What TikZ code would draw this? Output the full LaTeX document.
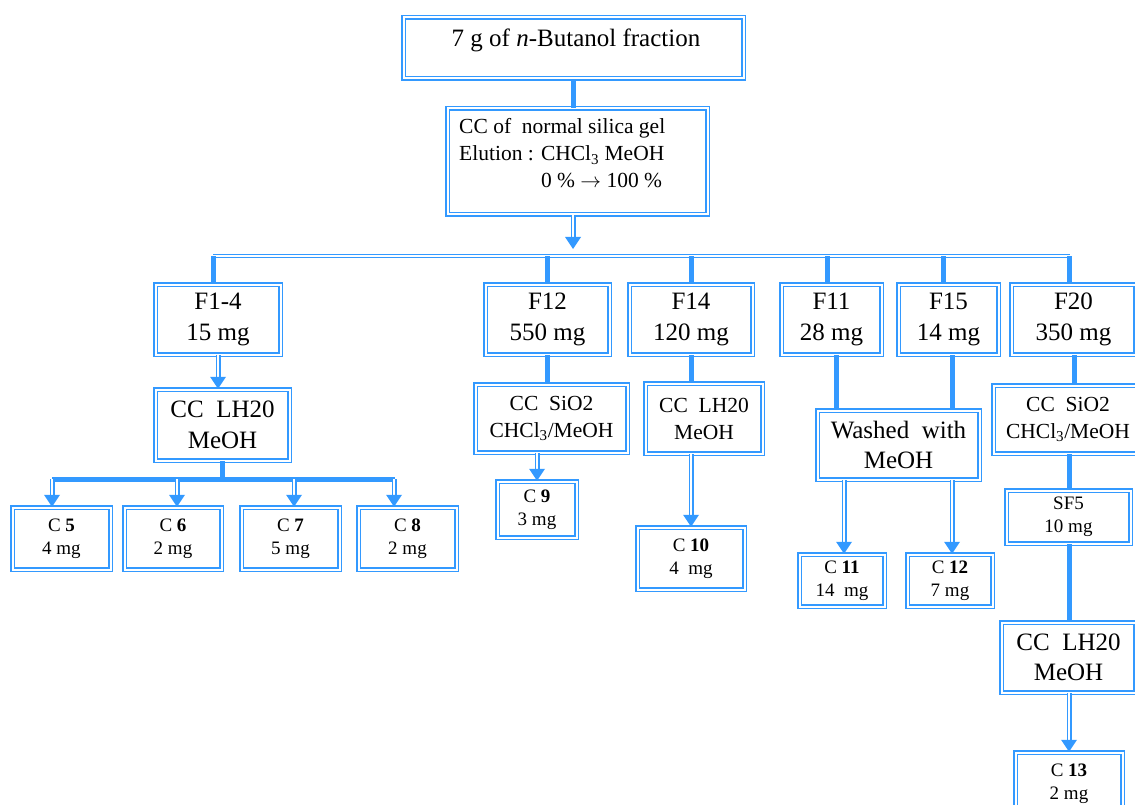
\documentclass[tikz,border=0pt]{standalone}
\usepackage{fontspec}
\setmainfont{Liberation Serif}
\definecolor{bl}{RGB}{51,153,255}
\tikzset{
  dbox/.style={draw=bl, double=white, double distance=2pt, line width=1.5pt, inner sep=0pt, align=center, fill=white},
  big/.style={font=\fontsize{25}{30.5}\selectfont},
  med/.style={font=\fontsize{21.5}{27}\selectfont},
  sml/.style={font=\fontsize{19}{23}\selectfont},
  tline/.style={draw=bl, line width=5pt},
  dshaft/.style={draw=bl, double=white, double distance=2pt, line width=1.5pt, shorten >=10pt},
  bus2/.style={draw=bl, double=white, double distance=1.6pt, line width=1.4pt},
}
\newcommand{\darw}[2]{\draw[dshaft] (#1) -- (#2); \fill[bl] (#2) -- ++(-8pt,12pt) -- ++(16pt,0pt) -- cycle;}
\begin{document}
\begin{tikzpicture}[x=1pt,y=-1pt]
\clip (0,0) rectangle (1135,805);
\fill[white] (0,0) rectangle (1135,805);
% x positions of connectors
\coordinate (x52) at (52,0);
\coordinate (x177) at (177,0);
\coordinate (x213) at (213,0);
\coordinate (x218) at (218,0);
\coordinate (x222) at (222,0);
\coordinate (x294) at (294,0);
\coordinate (x394) at (394,0);
\coordinate (x537) at (537,0);
\coordinate (x547) at (547,0);
\coordinate (x573) at (573,0);
\coordinate (x691) at (691,0);
\coordinate (x827) at (827,0);
\coordinate (x836) at (836,0);
\coordinate (x844) at (844,0);
\coordinate (x943) at (943,0);
\coordinate (x952) at (952,0);
\coordinate (x1069) at (1069,0);
\coordinate (x1074) at (1074,0);
\coordinate (busL) at (213,256);
\coordinate (busR) at (1070,256);
\coordinate (bus2L) at (52,479);
\coordinate (bus2R) at (395,479);

% boxes
\node[dbox, minimum width=340, minimum height=61] (top) at (573.5,48) {};
\node[big] (toptext) at (576,40) {7 g of \textit{n}-Butanol fraction};
\node[dbox, minimum width=260, minimum height=106] (cc1) at (577.5,161.5) {};
\node[font=\fontsize{21.5}{27}\selectfont, anchor=west, inner sep=0pt] (cc1text) at (459,155.5)
  {\begin{tabular}{@{}l@{ }l@{}}\multicolumn{2}{@{}l@{}}{CC of\ \ normal silica gel}\\ Elution : & CHCl\textsubscript{3} MeOH\\ & 0 \% $\rightarrow$ 100 \%\end{tabular}};

\node[dbox, big, minimum width=125, minimum height=70] (f14) at (218,319.5) {F1-4\\15 mg};
\node[dbox, big, minimum width=124, minimum height=70] (f12) at (547.5,319.5) {F12\\550 mg};
\node[dbox, big, minimum width=123, minimum height=70] (fq14) at (691,319.5) {F14\\120 mg};
\node[dbox, big, minimum width=100, minimum height=70] (f11) at (831.5,319.5) {F11\\28 mg};
\node[dbox, big, minimum width=100, minimum height=70] (f15) at (948.5,319.5) {F15\\14 mg};
\node[dbox, big, minimum width=124, minimum height=70] (f20) at (1073.5,319.5) {F20\\350 mg};

\node[dbox, big, minimum width=134, minimum height=71] (lh1) at (222.5,425) {CC\ \ LH20\\MeOH};
\node[dbox, sml, minimum width=98, minimum height=62] (c5) at (61.5,538.5) {C \textbf{5}\\4 mg};
\node[dbox, sml, minimum width=97, minimum height=62] (c6) at (173,538.5) {C \textbf{6}\\2 mg};
\node[dbox, sml, minimum width=98, minimum height=62] (c7) at (290.5,538.5) {C \textbf{7}\\5 mg};
\node[dbox, sml, minimum width=98, minimum height=62] (c8) at (407.5,538.5) {C \textbf{8}\\2 mg};

\node[dbox, med, minimum width=152, minimum height=68] (ss1) at (551.5,418.5) {CC\ \ SiO2\\CHCl\textsubscript{3}/MeOH};
\node[dbox, sml, minimum width=79, minimum height=56] (c9) at (537,509.5) {C \textbf{9}\\3 mg};

\node[dbox, med, minimum width=117, minimum height=70] (lh2) at (704,418.5) {CC\ \ LH20\\MeOH};
\node[dbox, sml, minimum width=107, minimum height=62] (c10) at (691,558.5) {C \textbf{10}\\4\ \ mg};

\node[dbox, big, minimum width=162, minimum height=69] (wash) at (898.5,445) {Washed\ \ with\\MeOH};
\node[dbox, sml, minimum width=85, minimum height=52] (c11) at (842,580.5) {C \textbf{11}\\14\ \ mg};
\node[dbox, sml, minimum width=85, minimum height=52] (c12) at (950,580.5) {C \textbf{12}\\7 mg};

\node[dbox, med, minimum width=149, minimum height=68] (ss2) at (1068,419.5) {CC\ \ SiO2\\CHCl\textsubscript{3}/MeOH};
\node[dbox, sml, minimum width=124, minimum height=53] (sf5) at (1068.5,517) {SF5\\10 mg};
\node[dbox, big, minimum width=134, minimum height=70] (lh3) at (1068.5,657.5) {CC\ \ LH20\\MeOH};
\node[dbox, sml, minimum width=107, minimum height=62] (c13) at (1069,783.5) {C \textbf{13}\\2 mg};

% connectors
\draw[tline] (top.south -| x573) -- (cc1.north -| x573);
\darw{cc1.south -| x573}{x573 |- 0,249}
\draw[bus2] (busL) -- (busR);
\draw[tline] (busL) -- (f14.north -| x213);
\draw[tline] (busL -| x547) -- (f12.north -| x547);
\draw[tline] (busL -| x691) -- (fq14.north -| x691);
\draw[tline] (busL -| x827) -- (f11.north -| x827);
\draw[tline] (busL -| x943) -- (f15.north -| x943);
\draw[tline] (busR -| x1069) -- (f20.north -| x1069);

\darw{f14.south -| x218}{lh1.north -| x218}
\draw[tline] (lh1.south -| x222) -- (bus2L -| x222);
\draw[tline] (bus2L) -- (bus2R);
\darw{bus2L}{c5.north -| x52}
\darw{bus2L -| x177}{c6.north -| x177}
\darw{bus2L -| x294}{c7.north -| x294}
\darw{bus2L -| x394}{c8.north -| x394}

\draw[tline] (f12.south -| x547) -- (ss1.north -| x547);
\darw{ss1.south -| x537}{c9.north -| x537}
\draw[tline] (fq14.south -| x691) -- (lh2.north -| x691);
\darw{lh2.south -| x691}{c10.north -| x691}

\draw[tline] (f11.south -| x836) -- (wash.north -| x836);
\draw[tline] (f15.south -| x952) -- (wash.north -| x952);
\darw{wash.south -| x844}{c11.north -| x844}
\darw{wash.south -| x952}{c12.north -| x952}

\draw[tline] (f20.south -| x1074) -- (ss2.north -| x1074);
\draw[tline] (ss2.south -| x1069) -- (sf5.north -| x1069);
\draw[tline] (sf5.south -| x1069) -- (lh3.north -| x1069);
\darw{lh3.south -| x1069}{c13.north -| x1069}
\end{tikzpicture}
\end{document}
